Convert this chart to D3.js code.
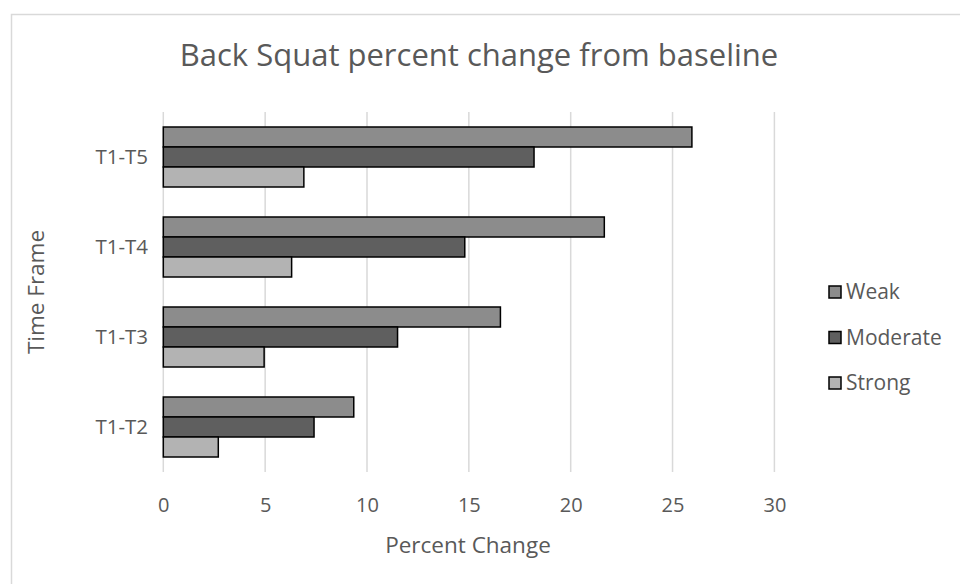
<!DOCTYPE html>
<html>
<head>
<meta charset="utf-8">
<script src="https://cdn.jsdelivr.net/npm/d3@7/dist/d3.min.js"></script>
<style>
  html, body { margin: 0; padding: 0; background: #fff; }
  svg { display: block; font-family: "Open Sans", sans-serif; }
  svg text { font-family: "Open Sans", sans-serif; }
</style>
</head>
<body>
<svg id="chart" width="960" height="584"></svg>
<script>
// Time frames (bottom to top as drawn: T1-T2 at the bottom)
const categories = ["T1-T2", "T1-T3", "T1-T4", "T1-T5"];
const seriesNames = ["Weak", "Moderate", "Strong"];
// Percent change from baseline per group
const weak     = [9.35, 16.55, 21.65, 25.95];
const moderate = [7.4, 11.5, 14.8, 18.2];
const strong   = [2.7, 4.95, 6.3, 6.9];
const xTicks = [0, 5, 10, 15, 20, 25, 30];

const seriesValues = [weak, moderate, strong];
const colors = ["#8c8c8c", "#5f5f5f", "#b3b3b3"];
const textColor = "#595959";
const font = "'Open Sans', sans-serif";

const svg = d3.select("#chart");

// chart frame
svg.append("rect")
  .attr("x", 11.5).attr("y", 14.5)
  .attr("width", 960).attr("height", 600)
  .attr("fill", "#fff").attr("stroke", "#d9d9d9").attr("stroke-width", 1.5);

const plot = { left: 163.3, right: 774.4, top: 112, bottom: 472 };

const x = d3.scaleLinear().domain([0, 30]).range([plot.left, plot.right]);
const y = d3.scaleBand()
  .domain(categories.slice().reverse())
  .range([plot.top, plot.bottom])
  .paddingInner(1 / 3)
  .paddingOuter(1 / 6);
const ySub = d3.scaleBand().domain(seriesNames).range([0, y.bandwidth()]);

// vertical gridlines
svg.append("g")
  .selectAll("line")
  .data(xTicks)
  .join("line")
  .attr("x1", d => x(d)).attr("x2", d => x(d))
  .attr("y1", plot.top).attr("y2", plot.bottom)
  .attr("stroke", "#d9d9d9").attr("stroke-width", 1.5);

// x axis tick labels
const xAxis = d3.axisBottom(x).tickValues(xTicks).tickSize(0).tickPadding(0);
const gx = svg.append("g")
  .attr("transform", `translate(0,${plot.bottom + 26})`)
  .call(xAxis)
  .attr("font-family", font);
gx.select(".domain").remove();
gx.selectAll("text")
  .attr("fill", textColor)
  .style("font-size", "20px")
  .attr("dy", "0.72em");

// y axis tick labels
const yAxis = d3.axisLeft(y).tickSize(0).tickPadding(0);
const gy = svg.append("g")
  .attr("transform", `translate(${148},0)`)
  .call(yAxis)
  .attr("font-family", font);
gy.select(".domain").remove();
gy.selectAll("text")
  .attr("fill", textColor)
  .style("font-size", "20.5px");

// bars
const groups = svg.append("g")
  .selectAll("g")
  .data(categories)
  .join("g")
  .attr("transform", d => `translate(0,${y(d)})`);

groups.selectAll("rect")
  .data((c, i) => seriesNames.map((s, k) => ({ s, v: seriesValues[k][i], k })))
  .join("rect")
  .attr("x", x(0))
  .attr("y", d => ySub(d.s))
  .attr("width", d => x(d.v) - x(0))
  .attr("height", ySub.bandwidth())
  .attr("fill", d => colors[d.k])
  .attr("stroke", "#000")
  .attr("stroke-width", 1.5);

// title
svg.append("text")
  .attr("x", 479).attr("y", 66)
  .attr("text-anchor", "middle")
  .attr("fill", textColor)
  .style("font-size", "31px")
  .text("Back Squat percent change from baseline");

// axis titles
svg.append("text")
  .attr("x", 468).attr("y", 553)
  .attr("text-anchor", "middle")
  .attr("fill", textColor)
  .style("font-size", "22.5px")
  .text("Percent Change");

svg.append("text")
  .attr("transform", `translate(44,${(plot.top + plot.bottom) / 2}) rotate(-90)`)
  .attr("text-anchor", "middle")
  .attr("fill", textColor)
  .style("font-size", "22.5px")
  .text("Time Frame");

// legend
const legend = svg.append("g")
  .selectAll("g")
  .data(seriesNames)
  .join("g")
  .attr("transform", (d, i) => `translate(829,${292 + i * 45.5})`);

legend.append("rect")
  .attr("x", 0).attr("y", -6)
  .attr("width", 12).attr("height", 12)
  .attr("fill", (d, i) => colors[i])
  .attr("stroke", "#000").attr("stroke-width", 1.5);

legend.append("text")
  .attr("x", 17).attr("y", 0)
  .attr("dy", "0.35em")
  .attr("fill", textColor)
  .style("font-size", "21px")
  .text(d => d);
</script>
</body>
</html>
